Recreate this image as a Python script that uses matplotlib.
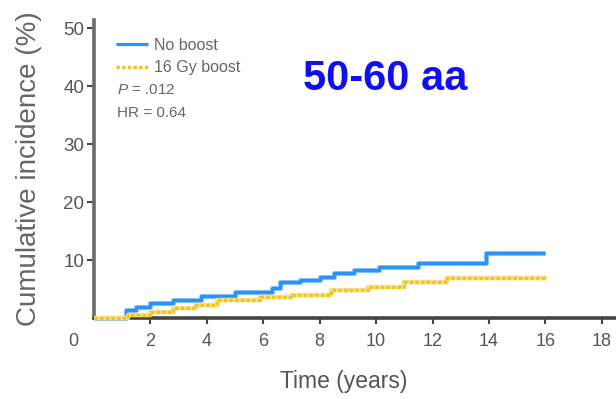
import matplotlib
matplotlib.use("Agg")
import matplotlib.pyplot as plt

plt.rcParams['mathtext.fontset'] = 'custom'
plt.rcParams['mathtext.it'] = 'Liberation Sans:italic'
plt.rcParams['mathtext.rm'] = 'Liberation Sans'

FONT = ['Liberation Sans', 'DejaVu Sans']

# Data
no_boost_t = [0, 1.15, 1.5, 2.0, 2.8, 3.8, 5.0, 6.3, 6.6, 7.3, 8.0, 8.5, 9.2, 10.1, 11.5, 13.9, 16.0]
no_boost_y = [0, 1.4, 1.9, 2.6, 3.1, 3.8, 4.5, 5.2, 6.2, 6.6, 7.1, 7.7, 8.3, 8.8, 9.5, 11.2, 11.2]

boost_t = [0, 1.2, 2.0, 2.8, 3.6, 4.35, 5.9, 7.0, 8.4, 9.7, 11.0, 12.5, 16.05]
boost_y = [0, 0.5, 1.1, 1.7, 2.2, 3.1, 3.7, 4.0, 4.8, 5.3, 6.2, 6.9, 6.9]

x_ticks = [2, 4, 6, 8, 10, 12, 14, 16, 18]
y_ticks = [10, 20, 30, 40, 50]

fig = plt.figure(figsize=(6.16, 3.99), dpi=100)
ax = fig.add_axes([94 / 616, 1 - 318 / 399, 1 - 94 / 616, 298 / 399])

blue = '#2A93FA'
yellow = '#F0C419'

ax.step(no_boost_t, no_boost_y, where='post', color='#8CC4FF', lw=3.6,
        solid_capstyle='butt', zorder=3, clip_on=False)
ax.step(no_boost_t, no_boost_y, where='post', color=blue, lw=2.3, label='No boost',
        solid_capstyle='butt', zorder=3, clip_on=False)
ax.step(boost_t, boost_y, where='post', color='#F7E08A', lw=3.2,
        solid_capstyle='butt', zorder=3.1, clip_on=False)
ax.step(boost_t, boost_y, where='post', color=yellow, lw=2.4, ls=(0, (1.0, 0.7)),
        label='16 Gy boost', zorder=3.1, clip_on=False)

for s in ['top', 'right']:
    ax.spines[s].set_visible(False)
ax.spines['left'].set_color('#6a6a6a')
ax.spines['left'].set_linewidth(2.6)
ax.spines['bottom'].set_color('#444444')
ax.spines['bottom'].set_linewidth(2.6)

ax.set_xlim(0, 18.5)
ax.set_ylim(0, 51.4)
ax.set_xticks(x_ticks)
ax.set_yticks(y_ticks)
ax.set_xticklabels([str(v) for v in x_ticks], family=FONT, fontsize=13, color='#555555')
ax.set_yticklabels([str(v) for v in y_ticks], family=FONT, fontsize=13.5, color='#555555')
ax.tick_params(axis='y', length=5, width=1.5, color='#444444', pad=2)
ax.tick_params(axis='x', length=4.5, width=1.5, color='#444444', pad=6)

# shared origin label
ax.text(-0.73, -4.1, '0', family=FONT, fontsize=13, color='#555555',
        ha='center', va='center', clip_on=False)

ax.set_xlabel('Time (years)', family=FONT, fontsize=16.5, color='#555555')
ax.xaxis.set_label_coords(0.479, -0.174)
ax.set_ylabel('Cumulative incidence (%)', family=FONT, fontsize=20, color='#666666')
ax.yaxis.set_label_coords(-0.10, 0.5)

leg = ax.legend(loc='upper left', bbox_to_anchor=(116 / 616, 1 - 38 / 399),
                bbox_transform=fig.transFigure, frameon=False, borderpad=0,
                borderaxespad=0, handlelength=2.0, handletextpad=0.35,
                labelspacing=0.45, prop={'family': FONT, 'size': 11.5})
for t in leg.get_texts():
    t.set_color('#666666')

fig.text(117 / 616, 1 - 90 / 399, r'$P$ = .012', fontsize=11, color='#666666',
         family=FONT, va='center')
fig.text(117 / 616, 1 - 113 / 399, 'HR = 0.64', fontsize=11, color='#666666',
         family=FONT, va='center')

fig.text(303 / 616, 1 - 79 / 399, '50-60 aa', fontsize=30, fontweight='bold',
         color='#1010F0', family=FONT, va='center', ha='left')

fig.savefig('out.png', dpi=100)
